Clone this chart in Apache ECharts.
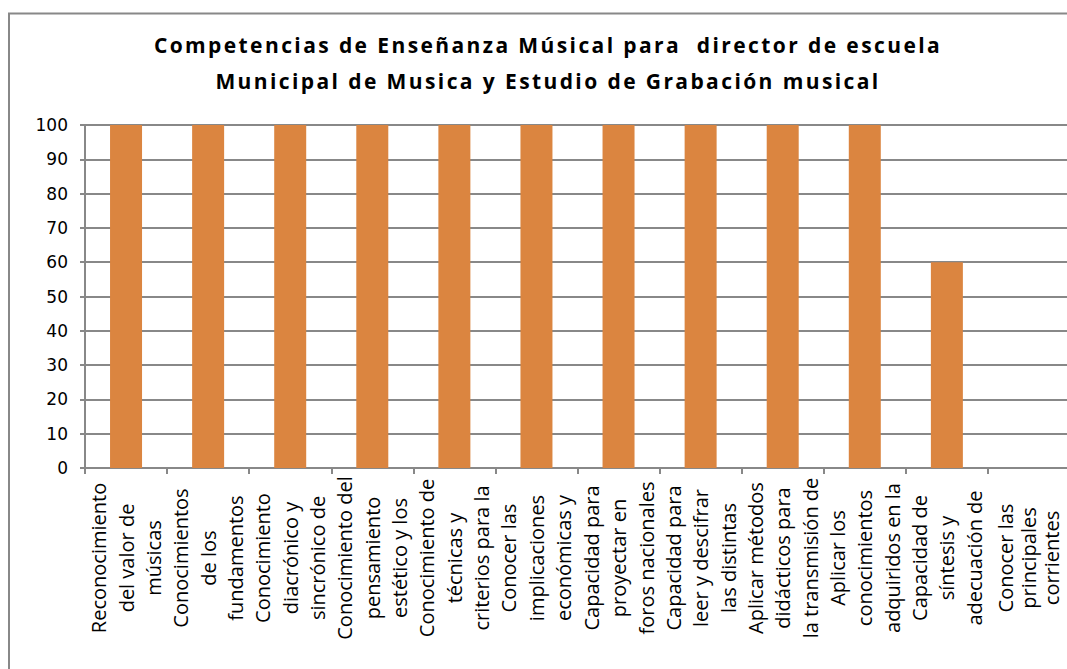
<!DOCTYPE html>
<html>
<head>
<meta charset="utf-8">
<script src="https://cdn.jsdelivr.net/npm/echarts@6/dist/echarts.min.js"></script>
<style>
  html, body { margin: 0; padding: 0; background: #fff; }
  #chart { width: 1067px; height: 669px; }
  #chart text { white-space: pre; }
  /* the excel title is drawn with wide letter spacing */
  #chart text[style*="bold"] { letter-spacing: 2.4px; }
</style>
</head>
<body>
<div id="chart"></div>
<script>
const chartTitle = 'Competencias de Enseñanza Músical para  director de escuela\nMunicipal de Musica y Estudio de Grabación musical';

// category labels, already wrapped the way the sheet shows them
const categories = [
  'Reconocimiento\ndel valor de\nmúsicas',
  'Conocimientos\nde los\nfundamentos',
  'Conocimiento\ndiacrónico y\nsincrónico de',
  'Conocimiento del\npensamiento\nestético y los',
  'Conocimiento de\ntécnicas y\ncriterios para la',
  'Conocer las\nimplicaciones\neconómicas y',
  'Capacidad para\nproyectar en\nforos nacionales',
  'Capacidad para\nleer y descifrar\nlas distintas',
  'Aplicar métodos\ndidácticos para\nla transmisión de',
  'Aplicar los\nconocimientos\nadquiridos en la',
  'Capacidad de\nsíntesis y\nadecuación de',
  'Conocer las\nprincipales\ncorrientes'
];

const values = [100, 100, 100, 100, 100, 100, 100, 100, 100, 100, 60, 0];

const yMin = 0;
const yMax = 100;
const yStep = 10;

const gray = '#888888';
const barColor = '#DB8540';

// the last label sits against the right edge, so its lines are packed a bit tighter
const axisCategories = categories.map(function (c, i) {
  if (i !== categories.length - 1) return c;
  return { value: c, textStyle: { align: 'center', verticalAlign: 'middle', lineHeight: 23 } };
});

const chart = echarts.init(document.getElementById('chart'), null, { renderer: 'svg' });

chart.setOption({
  animation: false,
  backgroundColor: '#fff',
  title: {
    text: chartTitle,
    left: 543,
    top: 22,
    textAlign: 'center',
    textStyle: {
      fontFamily: 'Open Sans',
      fontWeight: 'bold',
      fontSize: 21,
      lineHeight: 36,
      color: '#000'
    }
  },
  graphic: [{
    type: 'rect',
    z: -10,
    shape: { x: 9, y: 13.5, width: 1200, height: 800 },
    style: { fill: 'none', stroke: gray, lineWidth: 2 }
  }],
  grid: {
    left: 85,
    right: -3,
    top: 125,
    bottom: 201,
    containLabel: false,
    outerBoundsMode: 'none'
  },
  xAxis: {
    type: 'category',
    data: axisCategories,
    axisLine: { show: true, lineStyle: { color: gray, width: 2 } },
    axisTick: { show: true, length: 6, lineStyle: { color: gray, width: 2 } },
    axisLabel: {
      interval: 0,
      rotate: 90,
      align: 'center',
      verticalAlign: 'middle',
      margin: 90,
      fontFamily: 'Open Sans',
      fontSize: 20,
      lineHeight: 27.5,
      color: '#000'
    }
  },
  yAxis: {
    type: 'value',
    min: yMin,
    max: yMax,
    interval: yStep,
    axisLine: { show: true, lineStyle: { color: gray, width: 2 } },
    axisTick: { show: true, length: 5, lineStyle: { color: gray, width: 2 } },
    splitLine: { show: true, lineStyle: { color: gray, width: 2 } },
    axisLabel: {
      margin: 17,
      padding: [0, 0, 7, 0],
      fontFamily: 'DejaVu Sans',
      fontSize: 17,
      color: '#000'
    }
  },
  series: [{
    type: 'bar',
    data: values,
    barWidth: 32,
    itemStyle: { color: barColor }
  }]
});
</script>
</body>
</html>
